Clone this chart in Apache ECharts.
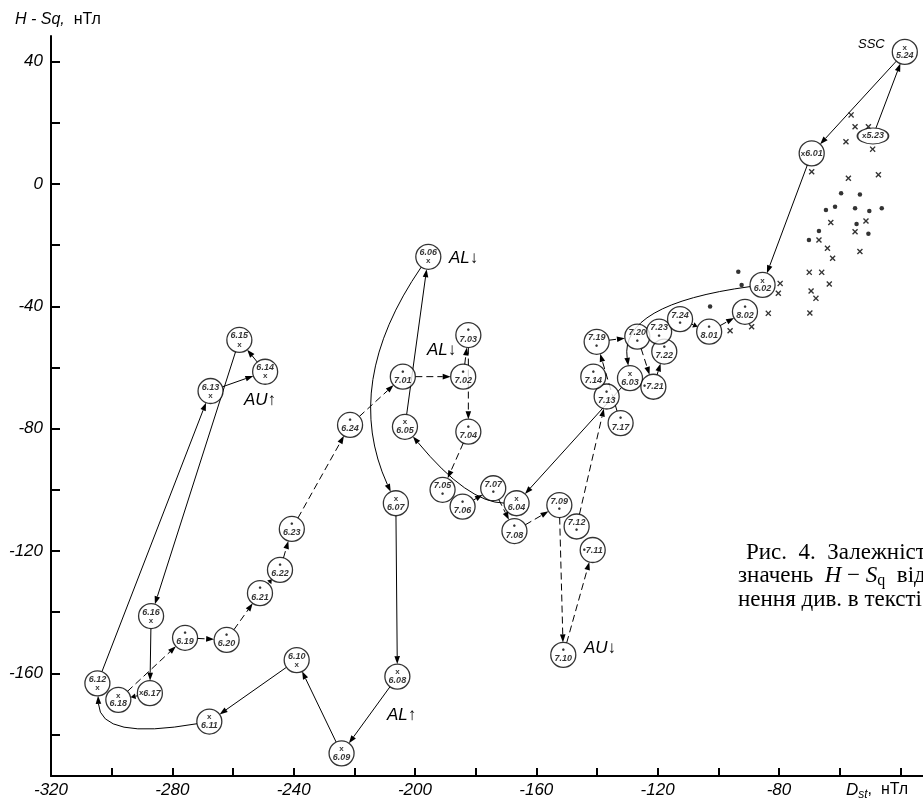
<!DOCTYPE html>
<html><head><meta charset="utf-8">
<script src="https://cdn.jsdelivr.net/npm/echarts@6/dist/echarts.min.js"></script>
<style>html,body{margin:0;padding:0;background:#fff}#c{width:923px;height:804px}</style>
</head><body><div id="c"></div>
<script>
// ---- data ----
const nodeLabels = ['5.23','5.24','6.01','6.02','6.03','6.04','6.05','6.06','6.07','6.08','6.09','6.10','6.11','6.12','6.13','6.14','6.15','6.16','6.17','6.18','6.19','6.20','6.21','6.22','6.23','6.24','7.01','7.02','7.03','7.04','7.05','7.06','7.07','7.08','7.09','7.10','7.11','7.12','7.13','7.14','7.17','7.19','7.20','7.21','7.22','7.23','7.24','8.01','8.02'];
const nodeDst = [-49,-38.5,-69.2,-85.4,-129.1,-166.5,-203.3,-195.6,-206.3,-205.8,-224.2,-239,-267.8,-304.7,-267.4,-249.4,-257.9,-287,-287.4,-297.8,-275.8,-262.1,-251.1,-244.5,-240.6,-221.4,-204,-184.1,-182.4,-182.4,-190.9,-184.3,-174.2,-167.2,-152.4,-151.1,-141.4,-146.7,-136.8,-141.2,-132.2,-140.1,-126.7,-121.4,-117.8,-119.5,-112.6,-103,-91.2];
const nodeHSq = [15.7,43.2,10,-33,-63.5,-104.4,-79.4,-23.8,-104.4,-161.1,-186.2,-155.7,-175.8,-163.3,-67.7,-61.4,-51,-141.3,-166.5,-168.7,-148.4,-149.1,-133.8,-126.2,-112.8,-78.8,-63,-63,-49.4,-81,-100,-105.5,-99.5,-113.5,-105,-154,-119.7,-112,-69.5,-63,-78.2,-51.6,-49.9,-66.3,-54.8,-48.3,-44.2,-48.3,-41.8];
const nodeMarker = ['x','x','x','x','x','x','x','x','x','x','x','x','x','x','x','x','x','x','x','x','dot','dot','dot','dot','dot','dot','dot','dot','dot','dot','dot','dot','dot','dot','dot','dot','dot','dot','dot','dot','dot','dot','dot','dot','dot','dot','dot','dot','dot'];
const solidEdges = [['5.23','5.24'],['5.24','6.01'],['6.01','6.02'],['6.02','6.03'],['6.03','6.04'],['6.04','6.05'],['6.05','6.06'],['6.06','6.07'],['6.07','6.08'],['6.08','6.09'],['6.09','6.10'],['6.10','6.11'],['6.11','6.12'],['6.12','6.13'],['6.13','6.14'],['6.14','6.15'],['6.15','6.16'],['6.16','6.17'],['6.17','6.18']];
const dashedEdges = [['6.18','6.19'],['6.19','6.20'],['6.20','6.21'],['6.21','6.22'],['6.22','6.23'],['6.23','6.24'],['6.24','7.01'],['7.01','7.02'],['7.02','7.03'],['7.03','7.04'],['7.04','7.05'],['7.05','7.06'],['7.06','7.07'],['7.07','7.08'],['7.08','7.09'],['7.09','7.10'],['7.10','7.11'],['7.11','7.12'],['7.12','7.13'],['7.13','7.14'],['7.17','7.19'],['7.19','7.20'],['7.20','7.21'],['7.21','7.22'],['7.22','7.23'],['7.23','7.24'],['7.24','8.01'],['8.01','8.02']];
const crossDst = [-56.2,-54.9,-50.5,-57.9,-49.1,-69.2,-57.1,-47.2,-62.9,-51.3,-54.9,-66.8,-64,-62.3,-53.3,-70,-65.9,-63.4,-69.4,-67.8,-69.8,-79.6,-80.2,-83.5,-89,-96.1];
const crossHSq = [22.6,18.7,18.7,13.8,11.4,4,1.9,3,-12.6,-12.1,-15.6,-18.3,-21,-24.3,-22.1,-28.9,-28.9,-32.7,-35,-37.4,-42.2,-32.5,-35.7,-42.3,-46.7,-48];
const dotDst = [-59.5,-53.3,-64.5,-61.5,-54.9,-50.2,-46.1,-66.8,-70.1,-50.5,-54.4,-93.4,-92.3,-102.7];
const dotHSq = [-3,-3.4,-8.5,-7.4,-7.9,-8.8,-7.9,-15.4,-18.3,-16.3,-13.1,-28.7,-33,-40.1];
const xTickValues = [-320,-300,-280,-260,-240,-220,-200,-180,-160,-140,-120,-100,-80,-60,-40];
const xLabelValues = [-320,-280,-240,-200,-160,-120,-80];
const yTickValues = [-180,-160,-140,-120,-100,-80,-60,-40,-20,0,20,40];
const yLabelValues = [-160,-120,-80,-40,0,40];

// ---- styling helpers ----
const FONT = '"Liberation Sans", Arial, sans-serif';
const SERIF = '"Liberation Serif", "Times New Roman", serif';
const R = 12.5;
const ellipseNodes = {'5.23': [15.5, 8]};
const bends = {'6.02>6.03':[0.79,-0.41], '6.04>6.05':[0.3,0.2], '6.06>6.07':[0.55,-0.28], '6.11>6.12':[0.82,0.45]};
const dateAbove = new Set(['6.06','6.10','6.12','6.13','6.14','6.15','6.16','7.05','7.07','7.09','7.12','7.19','7.20','7.23','7.24']);
const inlineMark = new Set(['5.23','6.01','6.17','7.11','7.21']);

const idx = {};
nodeLabels.forEach((l, i) => idx[l] = i);

const edgeMeta = [];
const edgeData = [];
function addEdges(list, dashed) {
  list.forEach(([f, t]) => {
    const a = idx[f], b = idx[t];
    edgeMeta.push({from: f, to: t, dashed: dashed, bend: bends[f + '>' + t] || [0.5, 0]});
    edgeData.push([nodeDst[a], nodeHSq[a], nodeDst[b], nodeHSq[b]]);
  });
}
addEdges(solidEdges, false);
addEdges(dashedEdges, true);

function unit(x, y) { const l = Math.hypot(x, y) || 1; return [x / l, y / l]; }
function radius(name, u) {
  const e = ellipseNodes[name];
  if (!e) return R;
  return 1 / Math.sqrt((u[0] / e[0]) ** 2 + (u[1] / e[1]) ** 2);
}

function renderEdge(params, api) {
  const m = edgeMeta[params.dataIndex];
  const a = api.coord([api.value(0), api.value(1)]);
  const b = api.coord([api.value(2), api.value(3)]);
  const dx = b[0] - a[0], dy = b[1] - a[1];
  const s = m.bend[0], c = m.bend[1];
  const cp = [a[0] + s * dx + c * dy, a[1] + s * dy - c * dx];
  const u1 = unit(cp[0] - a[0], cp[1] - a[1]);
  const u2 = unit(b[0] - cp[0], b[1] - cp[1]);
  const r1 = radius(m.from, u1), r2 = radius(m.to, u2);
  const len = Math.hypot(dx, dy);
  if (len - r1 - r2 < 4) return null;
  const start = [a[0] + u1[0] * r1, a[1] + u1[1] * r1];
  const end = [b[0] - u2[0] * r2, b[1] - u2[1] * r2];
  const L = Math.min(8, (len - r1 - r2) * 0.7), W = 2.8;
  const base = [end[0] - u2[0] * L, end[1] - u2[1] * L];
  const left = [base[0] - u2[1] * W, base[1] + u2[0] * W];
  const right = [base[0] + u2[1] * W, base[1] - u2[0] * W];
  const curved = c !== 0;
  const line = curved
    ? {type: 'bezierCurve', shape: {x1: start[0], y1: start[1], x2: base[0], y2: base[1], cpx1: cp[0], cpy1: cp[1]}}
    : {type: 'line', shape: {x1: start[0], y1: start[1], x2: base[0], y2: base[1]}};
  line.style = {stroke: '#000', fill: 'none', lineWidth: 1, lineDash: m.dashed ? [7, 4] : null};
  return {type: 'group', children: [
    line,
    {type: 'polygon', shape: {points: [end, left, right]}, style: {fill: '#000'}}
  ]};
}

const nodeData = nodeLabels.map((l, i) => {
  const e = ellipseNodes[l];
  return {value: [nodeDst[i], nodeHSq[i]], name: l, symbolSize: e ? [e[0] * 2, e[1] * 2] : R * 2};
});

function nodeLabel(p) {
  const l = p.name;
  const mk = nodeMarker[idx[l]] === 'x' ? '{m|x}' : '{p|•}';
  if (inlineMark.has(l)) return mk + '{d|' + l + '}';
  if (dateAbove.has(l)) return '{d|' + l + '}\n' + mk;
  return mk + '\n{d|' + l + '}';
}

const crossPath = 'path://M0,1.6L1.6,0L5,3.4L8.4,0L10,1.6L6.6,5L10,8.4L8.4,10L5,6.6L1.6,10L0,8.4L3.4,5Z';

function italicText(x, y, text, size) {
  return {type: 'text', x: x, y: y, z: 10, style: {text: text, fill: '#000', font: 'italic ' + (size || 17) + 'px ' + FONT, verticalAlign: 'middle'}};
}

const chart = echarts.init(document.getElementById('c'), null, {renderer: 'canvas'});
chart.setOption({
  animation: false,
  backgroundColor: '#fff',
  textStyle: {fontFamily: FONT},
  grid: {left: 51, right: 0, top: 36, bottom: 28, containLabel: false},
  xAxis: {
    type: 'value', min: -320, max: -32.5,
    axisLine: {onZero: false, lineStyle: {color: '#000', width: 2}},
    axisTick: {inside: true, length: 8, customValues: xTickValues, lineStyle: {color: '#000', width: 2}},
    axisLabel: {customValues: xLabelValues, color: '#000', fontStyle: 'italic', fontSize: 17, fontFamily: FONT, margin: 6},
    splitLine: {show: false}
  },
  yAxis: {
    type: 'value', min: -193.6, max: 48.4,
    axisLine: {onZero: false, lineStyle: {color: '#000', width: 2}},
    axisTick: {inside: true, length: 9, customValues: yTickValues, lineStyle: {color: '#000', width: 2}},
    axisLabel: {customValues: yLabelValues, color: '#000', fontStyle: 'italic', fontSize: 17, fontFamily: FONT, margin: 8},
    splitLine: {show: false}
  },
  series: [
    {type: 'custom', name: 'paths', renderItem: renderEdge, data: edgeData, encode: {x: [0, 2], y: [1, 3]}, z: 2, silent: true},
    {type: 'scatter', name: 'crosses', data: crossDst.map((v, i) => [v, crossHSq[i]]), symbol: crossPath, symbolSize: 6, itemStyle: {color: '#000'}, z: 3, silent: true},
    {type: 'scatter', name: 'dots', data: dotDst.map((v, i) => [v, dotHSq[i]]), symbol: 'circle', symbolSize: 4.5, itemStyle: {color: '#000'}, z: 3, silent: true},
    {type: 'scatter', name: 'days', data: nodeData, symbol: 'circle',
      itemStyle: {color: '#fff', borderColor: '#000', borderWidth: 1.3}, z: 5, silent: true,
      label: {show: true, position: 'inside', formatter: nodeLabel, color: '#000',
        rich: {
          m: {fontSize: 8, fontWeight: 'bold', lineHeight: 8, fontFamily: FONT, color: '#000'},
          p: {fontSize: 9, fontWeight: 'bold', lineHeight: 8, fontFamily: FONT, color: '#000'},
          d: {fontSize: 9, fontWeight: 'bold', fontStyle: 'italic', lineHeight: 9, fontFamily: FONT, color: '#000'}
        }}
    }
  ],
  graphic: [
    {type: 'text', x: 15, y: 20, style: {text: '{i|H - Sq,}{n|  нТл}', verticalAlign: 'middle', rich: {
      i: {fontStyle: 'italic', fontSize: 16, fontFamily: FONT, fill: '#000', lineHeight: 20},
      n: {fontSize: 16, fontFamily: FONT, fill: '#000', lineHeight: 20}}}},
    {type: 'text', x: 846, y: 790, style: {text: '{d|D}{s|st}{n|,  нТл}', verticalAlign: 'middle', rich: {
      d: {fontStyle: 'italic', fontSize: 17, fontFamily: FONT, fill: '#000', lineHeight: 22},
      s: {fontStyle: 'italic', fontSize: 12, fontFamily: FONT, fill: '#000', lineHeight: 14, verticalAlign: 'bottom'},
      n: {fontSize: 16, fontFamily: FONT, fill: '#000', lineHeight: 22}}}},
    italicText(449, 258, 'AL↓'),
    italicText(427, 350, 'AL↓'),
    italicText(244, 400, 'AU↑'),
    italicText(387, 715, 'AL↑'),
    italicText(584, 648, 'AU↓'),
    italicText(858, 44, 'SSC', 13),
    {type: 'text', x: 746, y: 553, style: {text: 'Рис.  4.  Залежність середніх', fill: '#000', font: '23px ' + SERIF, verticalAlign: 'middle'}},
    {type: 'text', x: 738, y: 576, style: {text: '{t|значень  }{i|H}{t| − }{i|S}{q|q}{t|  від }{i|D}{q|st}', verticalAlign: 'middle', rich: {
      t: {fontSize: 23, fontFamily: SERIF, fill: '#000', lineHeight: 26},
      i: {fontSize: 23, fontFamily: SERIF, fontStyle: 'italic', fill: '#000', lineHeight: 26},
      q: {fontSize: 16, fontFamily: SERIF, fill: '#000', lineHeight: 16, verticalAlign: 'bottom'}}}},
    {type: 'text', x: 738, y: 600, style: {text: 'нення див. в тексті.', fill: '#000', font: '23px ' + SERIF, verticalAlign: 'middle'}}
  ]
});
</script>
</body></html>
